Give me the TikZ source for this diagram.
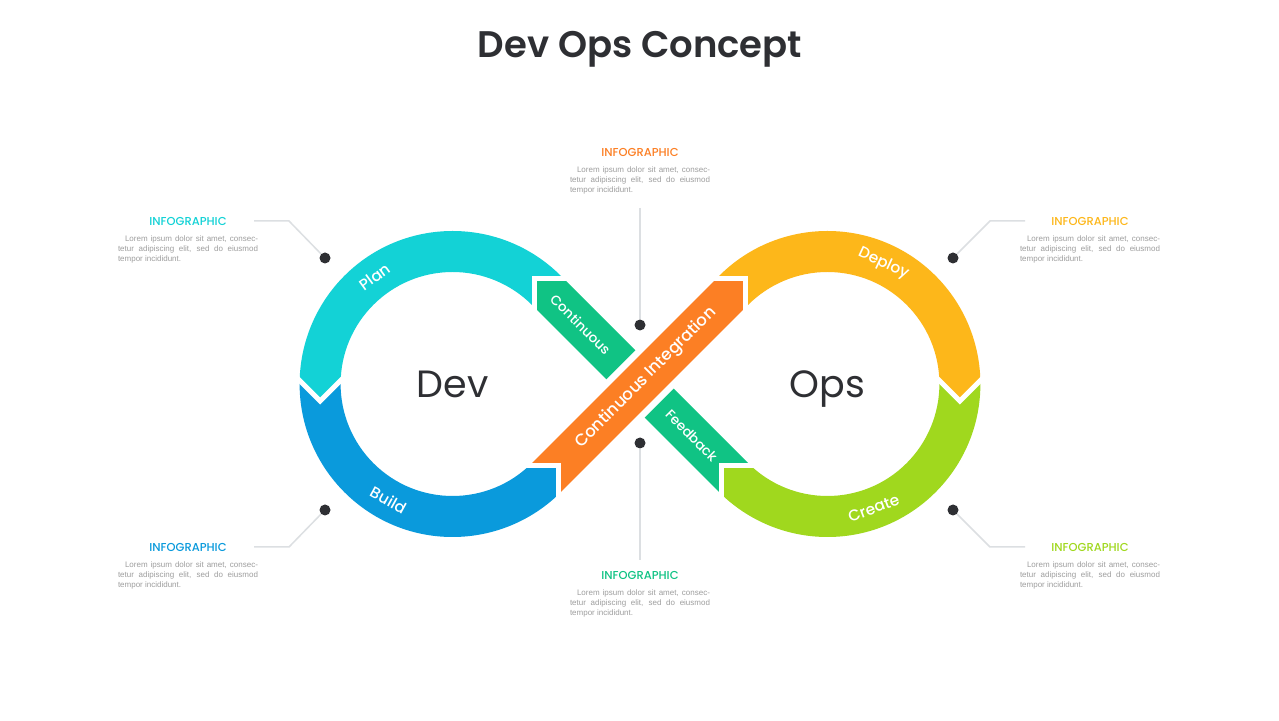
\documentclass[tikz,border=0pt]{standalone}
\usepackage{fontspec}
\setmainfont{Poppins}
\newfontfamily\popmed{Poppins Medium}
\newfontfamily\popsemi{Poppins SemiBold}
\newfontfamily\bodyfont{Liberation Sans}
\usetikzlibrary{calc}

\definecolor{plancol}{HTML}{13D2D6}
\definecolor{buildcol}{HTML}{0A9ADC}
\definecolor{integcol}{HTML}{FC7F24}
\definecolor{deploycol}{HTML}{FDB71A}
\definecolor{createcol}{HTML}{A0D81E}
\definecolor{feedcol}{HTML}{10C384}
\definecolor{darktext}{HTML}{2E2F33}
\definecolor{greytext}{HTML}{9E9E9E}
\definecolor{leadcol}{HTML}{DCDFE2}

% one coloured piece of a ring: centre, start angle, end angle, colour
\newcommand{\ringpart}[4]{%
  \fill[#4] ($(#1)+(#2:153)$) arc[start angle=#2, end angle=#3, radius=153pt]
    -- ($(#1)+(#3:112)$) arc[start angle=#3, end angle=#2, radius=112pt] -- cycle;}

% arrow tip of one piece into the notch of the next: point, direction, colour
\newcommand{\flowtip}[3]{%
  \begin{scope}[shift={(#1)}, rotate=#2]
    \fill[#3] (-3.5,-20.5) -- (17,0) -- (-3.5,20.5) -- cycle;
    \draw[white, line width=5pt, miter limit=3] (-7.5,-24.5) -- (17,0) -- (-7.5,24.5);
  \end{scope}}

\newcommand{\loremtext}{\hspace*{7pt}Lorem ipsum dolor sit amet, consec-\linebreak
  tetur adipiscing elit, sed do eiusmod\linebreak tempor incididunt.}

\begin{document}
\begin{tikzpicture}[x=1pt, y=1pt,
    ringlabel/.style={text=white, font=\popmed\fontsize{15.5}{17}\selectfont, inner sep=0pt},
    bandlabel/.style={text=white, font=\popmed\fontsize{13.5}{15}\selectfont, inner sep=0pt},
    bigword/.style={text=darktext, font=\fontsize{38}{40}\selectfont, text height=27pt, text depth=0pt, inner sep=0pt},
    infotitle/.style={font=\popmed\fontsize{11.5}{12}\selectfont},
    infotext/.style={text=greytext, text width=140pt, align=justify,
      font=\bodyfont\fontsize{8}{10}\selectfont, inner sep=0pt},
    leader/.style={draw=leadcol, line width=1.5pt},
    dot/.style={circle, fill=darktext, minimum size=11pt, inner sep=0pt}
  ]
  \fill[white] (0,0) rectangle (1279,720);
  \useasboundingbox (0,0) rectangle (1279,720);

  \node[font=\popsemi\fontsize{37}{40}\selectfont, text=darktext, anchor=base] (title) at (640,662) {Dev Ops Concept};

  \coordinate (L) at (452.6,336);
  \coordinate (R) at (827.4,336);
  \coordinate (C) at (640,336);

  % rings
  \ringpart{L}{45}{180}{plancol}
  \ringpart{L}{180}{315}{buildcol}
  \ringpart{R}{135}{0}{deploycol}
  \ringpart{R}{0}{-135}{createcol}

  % diagonal bands
  \begin{scope}[shift={(C)}, rotate=-45]
    \fill[feedcol] (-132.5,-20.5) rectangle (132.5,20.5);
  \end{scope}
  \begin{scope}[shift={(C)}, rotate=45]
    \fill[white] (-45,-27) rectangle (45,27);
    \fill[integcol] (-132.5,-20.5) rectangle (132.5,20.5);
  \end{scope}

  % joints
  \coordinate (J1) at ($(L)+(315:132.5)$);
  \coordinate (J2) at ($(R)+(135:132.5)$);
  \coordinate (J3) at ($(R)+(0:132.5)$);
  \coordinate (J4) at ($(R)+(225:132.5)$);
  \coordinate (J5) at ($(L)+(45:132.5)$);
  \coordinate (J6) at ($(L)+(180:132.5)$);
  \flowtip{J1}{45}{buildcol}
  \flowtip{J2}{45}{integcol}
  \flowtip{J3}{-90}{deploycol}
  \flowtip{J4}{135}{createcol}
  \flowtip{J5}{135}{feedcol}
  \flowtip{J6}{-90}{plancol}

  % labels
  \node[ringlabel, rotate=36] (lplan) at ($(L)+(126:132.5)$) {Plan};
  \node[ringlabel, rotate=-29] (lbuild) at ($(L)+(241:132.5)$) {Build};
  \node[ringlabel, rotate=-25] (ldeploy) at ($(R)+(65:132.5)$) {Deploy};
  \node[ringlabel, rotate=20.5] (lcreate) at ($(R)+(-69.5:132.5)$) {Create};
  \node[bandlabel, rotate=-45] (lcont) at ($(C)+(135:84)$) {Continuous};
  \node[bandlabel, rotate=-45] (lfeed) at ($(C)+(-45:73)$) {Feedback};
  \node[bandlabel, rotate=45, font=\popmed\fontsize{16.5}{18}\selectfont] (linteg) at ($(C)+(45:8.5)$) {Continuous Integration};
  \node[bigword] (dev) at (L) {Dev};
  \node[bigword] (ops) at (R) {Ops};

  % leaders
  \node[dot] (dtl) at (325,462) {};
  \node[dot] (dbl) at (325,210) {};
  \node[dot] (dtr) at (953,462) {};
  \node[dot] (dbr) at (953,210) {};
  \node[dot] (dtc) at (640,395) {};
  \node[dot] (dbc) at (640,277) {};
  \coordinate (etl) at (289,499); \coordinate (ftl) at (254,499);
  \coordinate (ebl) at (289,173); \coordinate (fbl) at (254,173);
  \coordinate (etr) at (990,499); \coordinate (ftr) at (1025,499);
  \coordinate (ebr) at (990,173); \coordinate (fbr) at (1025,173);
  \coordinate (ftc) at (640,512);
  \coordinate (fbc) at (640,160);
  \draw[leader] (dtl) -- (etl) -- (ftl);
  \draw[leader] (dbl) -- (ebl) -- (fbl);
  \draw[leader] (dtr) -- (etr) -- (ftr);
  \draw[leader] (dbr) -- (ebr) -- (fbr);
  \draw[leader] (ftc) -- (dtc);
  \draw[leader] (dbc) -- (fbc);

  % text blocks
  \node[infotitle, text=plancol] (ttl) at (188,499) {INFOGRAPHIC};
  \node[infotext] (btl) at (188,471) {\loremtext};
  \node[infotitle, text=buildcol] (tbl) at (188,173) {INFOGRAPHIC};
  \node[infotext] (bbl) at (188,145) {\loremtext};
  \node[infotitle, text=deploycol] (ttr) at (1090,499) {INFOGRAPHIC};
  \node[infotext] (btr) at (1090,471) {\loremtext};
  \node[infotitle, text=createcol] (tbr) at (1090,173) {INFOGRAPHIC};
  \node[infotext] (bbr) at (1090,145) {\loremtext};
  \node[infotitle, text=integcol] (ttc) at (640,568) {INFOGRAPHIC};
  \node[infotext] (btc) at (640,540) {\loremtext};
  \node[infotitle, text=feedcol] (tbc) at (640,145) {INFOGRAPHIC};
  \node[infotext] (bbc) at (640,117) {\loremtext};
\end{tikzpicture}
\end{document}
